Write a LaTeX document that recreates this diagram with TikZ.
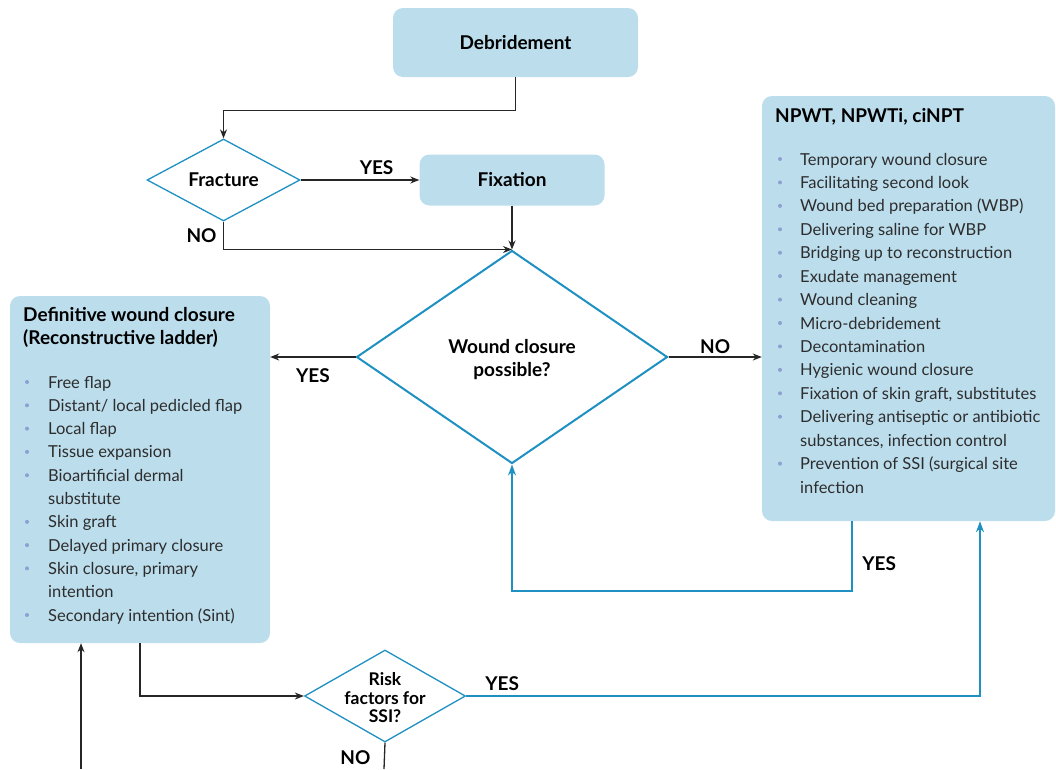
\documentclass[tikz,border=0pt]{standalone}
\usepackage{fontspec}
\setmainfont{Lato}
\usetikzlibrary{shapes.geometric,arrows.meta,calc}
\definecolor{boxfill}{RGB}{188,221,236}
\definecolor{dblue}{RGB}{30,144,194}
\definecolor{bulc}{RGB}{140,160,210}
\definecolor{itemc}{RGB}{45,45,45}
\newcommand{\dtext}[2][-4pt]{\makebox[0pt]{\smash{\raisebox{#1}{\begin{tabular}{@{}c@{}}#2\end{tabular}}}}}
\begin{document}
\begin{tikzpicture}[x=1pt,y=-1pt,
  box/.style={draw=none, fill=boxfill, rounded corners=10pt, inner sep=0pt},
  lbl/.style={font=\fontsize{19}{23}\selectfont\bfseries, text=black},
  dec/.style={diamond, draw=dblue, fill=white, inner sep=0pt, line width=1.3pt, font=\fontsize{19}{23}\selectfont\bfseries},
  arr/.style={draw=black!85, line width=1.3pt, -{Stealth[length=9pt,width=7pt]}},
  barr/.style={draw=dblue, line width=2pt, -{Stealth[length=11pt,width=8pt]}},
  item/.style={anchor=base west, inner sep=0pt, font=\fontsize{16.5}{18}\selectfont, text=itemc},
  ttl/.style={anchor=base west, inner sep=0pt, font=\fontsize{19}{22}\selectfont\bfseries, text=black},
  bul/.style={circle, fill=bulc, inner sep=0pt, minimum size=4pt},
]
\useasboundingbox (0,0) rectangle (1056,769);

% boxes
\node[box, minimum width=245pt, minimum height=69pt, lbl] (deb) at (515.5,42.5) {Debridement};
\node[box, minimum width=185pt, minimum height=51pt, lbl] (fix) at (512,180) {Fixation};
\node[box, minimum width=260pt, minimum height=347pt] (defbox) at (140,469.5) {};
\node[box, minimum width=293pt, minimum height=425pt] (npwt) at (908.5,308.5) {};

% decisions
\node[dec, minimum width=153pt, minimum height=82pt] (frac) at (223.5,180) {\dtext[-6pt]{Fracture}};
\node[dec, minimum width=311pt, minimum height=213pt, line width=2pt] (wcp) at (512,357) {\dtext[-7.5pt]{Wound closure\\possible?}};
\node[dec, minimum width=161pt, minimum height=92pt, font=\fontsize{17.5}{18}\selectfont\bfseries] (risk) at (385,696) {\dtext[-8.5pt]{Risk\\factors for\\SSI?}};

% titles
\node[ttl] (lt1) at (23,321) {Definitive wound closure};
\node[ttl] (lt2) at (23,344) {(Reconstructive ladder)};
\node[ttl] (rt1) at (775,122) {NPWT, NPWTi, ciNPT};

% left list
\foreach \t [count=\i from 0] in {Free flap, Distant/ local pedicled flap, Local flap, Tissue expansion, Bioartificial dermal, substitute, Skin graft, Delayed primary closure, {Skin closure, primary}, intention, Secondary intention (Sint)}
  \node[item, name=li\i] at (48, 388+23.3*\i) {\t};
\foreach \i in {0,1,2,3,4,6,7,8,10}
  \node[bul, name=lb\i] at (27, 382+23.3*\i) {};

% right list
\foreach \t [count=\i from 0] in {Temporary wound closure, Facilitating second look, Wound bed preparation (WBP), Delivering saline for WBP, Bridging up to reconstruction, Exudate management, Wound cleaning, Micro-debridement, Decontamination, Hygienic wound closure, {Fixation of skin graft, substitutes}, Delivering antiseptic or antibiotic, {substances, infection control}, Prevention of SSI (surgical site, infection}
  \node[item, name=ri\i] at (800, 165+23.43*\i) {\t};
\foreach \i in {0,1,2,3,4,5,6,7,8,9,10,11,13}
  \node[bul, name=rb\i] at (780, 159+23.43*\i) {};

% free ends
\coordinate (bot1) at (384,769);
\coordinate (bot2) at (81,769);

% connectors
\draw[arr] (deb.south) -- ++(0,33) -| (frac.north);
\draw[arr] (frac.east) -- (fix.west) node[pos=0.64, above=1pt, lbl] {YES};
\draw[arr] (frac.south) |- (wcp.north) node[pos=0.25, left=3pt, lbl] {NO};
\draw[arr] (fix.south) -- (wcp.north);
\draw[arr] (wcp.west) -- (wcp.west -| defbox.east) node[midway, below=8pt, lbl] {YES};
\draw[arr] (wcp.east) -- (wcp.east -| npwt.west) node[midway, above=-1pt, lbl] {NO};
\draw[barr] ([xshift=-56.5pt]npwt.south) -- ++(0,70) node[pos=0.6, right=6pt, lbl] {YES} -| (wcp.south);
\draw[arr] (defbox.south) |- (risk.west);
\draw[barr] (risk.east) -| ([xshift=71.5pt]npwt.south) node[pos=0.035, above=1pt, lbl] {YES};
\draw[draw=black!85, line width=1.3pt] (risk.south) -- (bot1) node[pos=0.55, left=10pt, lbl] {NO};
\draw[arr] (bot2) -- (bot2 |- defbox.south);
\end{tikzpicture}
\end{document}
